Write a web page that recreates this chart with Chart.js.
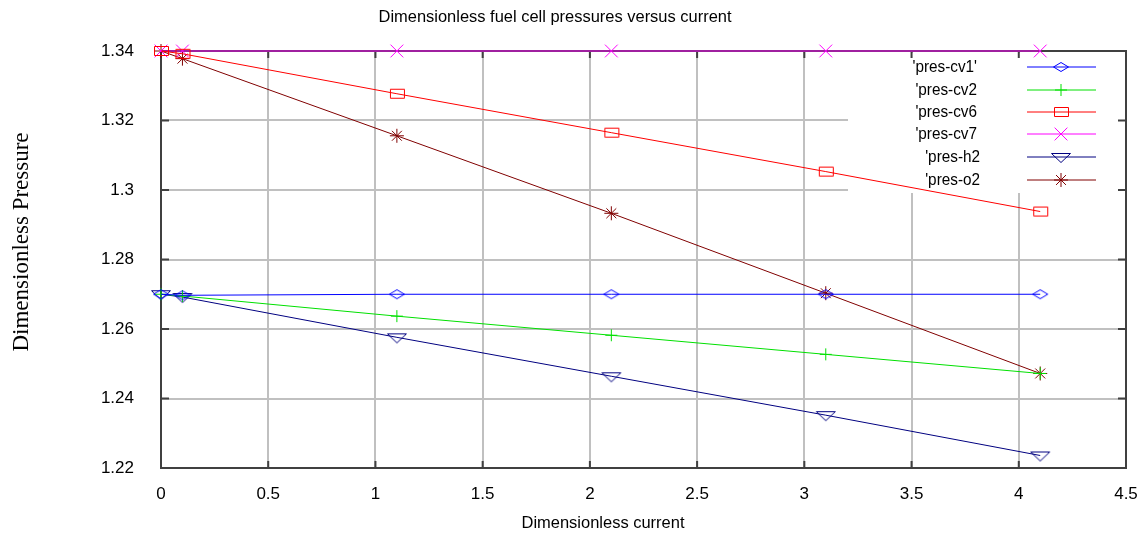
<!DOCTYPE html>
<html lang="en">
<head>
    <meta charset="UTF-8">
    <title>Dimensionless fuel cell pressures versus current</title>
    <script src="https://cdn.jsdelivr.net/npm/chart.js@4.4.1/dist/chart.umd.min.js"></script>
    <style>
        html, body { margin: 0; padding: 0; background: #fff; }
        #wrap { width: 1140px; height: 538px; }
    </style>
</head>
<body>
    <div id="wrap"><canvas id="pressureChart"></canvas></div>
    <script>
    // data
    const currents = [0, 0.1, 1.1, 2.1, 3.1, 4.1];
    const presCv1 = [1.27, 1.2697, 1.27, 1.27, 1.27, 1.27];
    const presCv2 = [1.27, 1.2695, 1.2637, 1.2582, 1.2527, 1.2472];
    const presCv6 = [1.34, 1.3392, 1.3277, 1.3165, 1.3053, 1.2938];
    const presCv7 = [1.34, 1.34, 1.34, 1.34, 1.34, 1.34];
    const presH2 = [1.27, 1.2692, 1.2576, 1.2464, 1.2352, 1.2236];
    const presO2 = [1.34, 1.3378, 1.3156, 1.2933, 1.2703, 1.2472];
    const seriesNames = ["'pres-cv1'", "'pres-cv2", "'pres-cv6", "'pres-cv7", "'pres-h2", "'pres-o2"];
    const xTicks = [0, 0.5, 1, 1.5, 2, 2.5, 3, 3.5, 4, 4.5];
    const yTicks = [1.22, 1.24, 1.26, 1.28, 1.3, 1.32, 1.34];

    const SANS = '"Liberation Sans", Arial, sans-serif';
    const SERIF = '"Liberation Serif", "Times New Roman", serif';

    function pts(ys) {
        return currents.map(function(x, i) { return { x: x, y: ys[i] }; });
    }

    // flattened gnuplot-style hollow markers
    function marker(kind, color) {
        const c = document.createElement('canvas');
        c.width = 22; c.height = 22;
        const g = c.getContext('2d');
        g.strokeStyle = color;
        g.lineWidth = 1;
        g.beginPath();
        if (kind === 'diamond') {
            g.moveTo(3.5, 11); g.lineTo(11, 6.5); g.lineTo(18.5, 11); g.lineTo(11, 15.5); g.closePath();
        } else if (kind === 'square') {
            g.rect(4.5, 6.5, 14, 9);
        } else if (kind === 'tridown') {
            g.moveTo(1.5, 7.5); g.lineTo(20.5, 7.5); g.lineTo(11, 16.5); g.closePath();
        }
        g.stroke();
        return c;
    }

    function series(idx, ys, color, style, radius) {
        return {
            label: seriesNames[idx],
            data: pts(ys),
            borderColor: color,
            backgroundColor: color,
            borderWidth: 1,
            pointStyle: style,
            pointRadius: radius,
            pointBorderColor: color,
            pointBackgroundColor: 'rgba(0,0,0,0)',
            pointBorderWidth: 1,
            tension: 0,
            clip: false
        };
    }

    // squeezed text like the original postscript fonts
    function squeezed(ctx, text, x, y, font, align, sx) {
        ctx.save();
        ctx.font = font;
        ctx.fillStyle = '#000';
        ctx.textBaseline = 'middle';
        ctx.textAlign = align;
        ctx.translate(x, y);
        ctx.scale(sx, 1);
        ctx.fillText(text, 0, 0);
        ctx.restore();
    }

    function fitWidth(ctx, text, font, w) {
        ctx.save();
        ctx.font = font;
        const m = ctx.measureText(text).width;
        ctx.restore();
        return w / m;
    }

    const decorPlugin = {
        id: 'decor',
        beforeDatasetsDraw: function(chart) {
            const ctx = chart.ctx;
            const a = chart.chartArea;
            const xs = chart.scales.x, ys = chart.scales.y;
            ctx.save();
            // white legend box hides the grid
            ctx.fillStyle = '#fff';
            ctx.fillRect(848, a.top + 2, a.right - 849, 140);
            // top and right border
            ctx.strokeStyle = '#404040';
            ctx.lineWidth = 2;
            ctx.beginPath();
            ctx.moveTo(a.left, a.top);
            ctx.lineTo(a.right, a.top);
            ctx.lineTo(a.right, a.bottom);
            ctx.stroke();
            // inner tick marks
            ctx.beginPath();
            xTicks.forEach(function(v) {
                const px = xs.getPixelForValue(v);
                ctx.moveTo(px, a.bottom);
                ctx.lineTo(px, a.bottom - 7);
                ctx.moveTo(px, a.top);
                ctx.lineTo(px, a.top + 7);
            });
            yTicks.forEach(function(v) {
                const py = ys.getPixelForValue(v);
                ctx.moveTo(a.left, py);
                ctx.lineTo(a.left + 8, py);
                ctx.moveTo(a.right, py);
                ctx.lineTo(a.right - 8, py);
            });
            ctx.stroke();
            ctx.restore();
        },
        afterDraw: function(chart) {
            const ctx = chart.ctx;
            const tFont = '16px ' + SANS;
            const title = 'Dimensionless fuel cell pressures versus current';
            squeezed(ctx, title, 555, 18, tFont, 'center', fitWidth(ctx, title, tFont, 353));
            const xt = 'Dimensionless current';
            squeezed(ctx, xt, 603, 524, tFont, 'center', fitWidth(ctx, xt, tFont, 163));

            ctx.save();
            ctx.font = '23px ' + SERIF;
            ctx.fillStyle = '#000';
            ctx.textAlign = 'center';
            ctx.textBaseline = 'middle';
            ctx.translate(22, 242);
            ctx.rotate(-Math.PI / 2);
            ctx.fillText('Dimensionless Pressure', 0, 0);
            ctx.restore();

            // legend: label on the left, sample line with marker on the right
            const rowY = [67, 90, 112, 134, 157, 180];
            const labelRight = [977, 977, 977, 977, 980, 980];
            chart.data.datasets.forEach(function(ds, i) {
                const y = rowY[i];
                squeezed(ctx, ds.label, labelRight[i], y, '17px ' + SANS, 'right', 0.9);
                ctx.save();
                ctx.strokeStyle = ds.borderColor;
                ctx.lineWidth = 1;
                ctx.beginPath();
                ctx.moveTo(1027, y);
                ctx.lineTo(1096, y);
                ctx.stroke();
                ctx.fillStyle = 'rgba(0,0,0,0)';
                Chart.helpers.drawPoint(ctx, {
                    pointStyle: ds.pointStyle,
                    radius: ds.pointRadius,
                    rotation: 0,
                    borderWidth: 1
                }, 1061, y);
                ctx.restore();
            });
        }
    };

    document.addEventListener('DOMContentLoaded', function() {
        const ctx = document.getElementById('pressureChart').getContext('2d');
        new Chart(ctx, {
            type: 'line',
            data: {
                datasets: [
                    series(0, presCv1, '#0000ff', marker('diamond', '#0000ff'), 7),
                    series(1, presCv2, '#00e000', 'cross', 6),
                    series(2, presCv6, '#ff0000', marker('square', '#ff0000'), 7),
                    series(3, presCv7, '#ff00ff', 'crossRot', 9),
                    series(4, presH2, '#000080', marker('tridown', '#000080'), 9),
                    series(5, presO2, '#800000', 'star', 7)
                ]
            },
            options: {
                responsive: true,
                maintainAspectRatio: false,
                animation: false,
                layout: { padding: { top: 51, right: 14, left: 0, bottom: 0 } },
                plugins: {
                    legend: { display: false },
                    title: { display: false },
                    tooltip: { enabled: false }
                },
                scales: {
                    x: {
                        type: 'linear',
                        min: 0,
                        max: 4.5,
                        afterFit: function(s) { s.height = 70; s.paddingLeft = 0; s.paddingRight = 0; },
                        afterBuildTicks: function(s) { s.ticks = xTicks.map(function(v) { return { value: v }; }); },
                        ticks: {
                            padding: 16,
                            color: '#000',
                            font: { family: SANS, size: 17 },
                            callback: function(v) { return String(Number(v.toFixed(2))); }
                        },
                        grid: { color: '#c0c0c0', lineWidth: 2, drawTicks: false },
                        border: { display: true, color: '#404040', width: 2 }
                    },
                    y: {
                        type: 'linear',
                        min: 1.22,
                        max: 1.34,
                        afterFit: function(s) { s.width = 161; },
                        afterBuildTicks: function(s) { s.ticks = yTicks.map(function(v) { return { value: v }; }); },
                        ticks: {
                            padding: 27,
                            color: '#000',
                            font: { family: SANS, size: 17 },
                            callback: function(v) { return String(Number(v.toFixed(2))); }
                        },
                        grid: { color: '#c0c0c0', lineWidth: 2, drawTicks: false },
                        border: { display: true, color: '#404040', width: 2 }
                    }
                }
            },
            plugins: [decorPlugin]
        });
    });
    </script>
</body>
</html>
